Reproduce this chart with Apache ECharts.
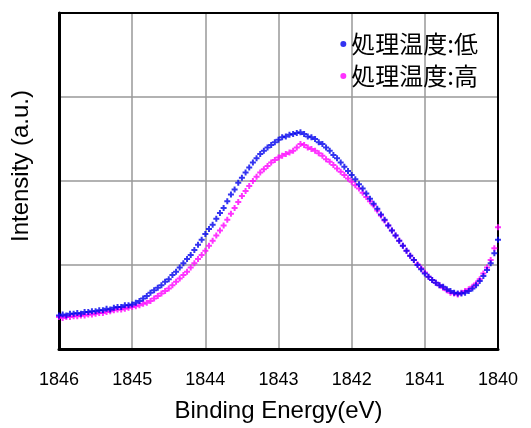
<!DOCTYPE html>
<html><head><meta charset="utf-8">
<script src="https://cdn.jsdelivr.net/npm/echarts@6/dist/echarts.min.js"></script>
<style>html,body{margin:0;padding:0;background:#fff}#c{width:531px;height:428px}</style>
</head><body><div id="c"></div>
<script>
// Binding energy start/step (eV)
const energyStart = 1846.00;
const energyStep = 0.05;
const seriesNames = ['処理温度:低', '処理温度:高'];
const xTicks = [1846, 1845, 1844, 1843, 1842, 1841, 1840];
// Intensity (a.u.), one value per energy point from 1846.00 down to 1840.00
const lowTemp = [
0.40,0.41,0.40,0.42,0.42,0.43,0.42,0.44,0.44,0.45,
0.45,0.46,0.46,0.48,0.47,0.49,0.50,0.50,0.52,0.52,
0.53,0.55,0.57,0.60,0.63,0.67,0.70,0.73,0.76,0.80,
0.83,0.88,0.92,0.97,1.02,1.07,1.12,1.18,1.24,1.30,
1.37,1.43,1.48,1.55,1.62,1.68,1.76,1.84,1.90,1.98,
2.04,2.10,2.16,2.22,2.27,2.32,2.36,2.40,2.43,2.46,
2.49,2.52,2.53,2.55,2.56,2.57,2.58,2.56,2.53,2.52,
2.50,2.46,2.44,2.40,2.36,2.31,2.27,2.22,2.17,2.12,
2.07,2.02,1.96,1.91,1.85,1.79,1.73,1.67,1.60,1.54,
1.47,1.41,1.35,1.29,1.23,1.17,1.11,1.06,1.00,0.95,
0.90,0.86,0.82,0.79,0.76,0.74,0.71,0.69,0.67,0.66,
0.66,0.67,0.69,0.72,0.76,0.81,0.87,0.94,1.02,1.14,
1.30];
const highTemp = [
0.38,0.37,0.38,0.38,0.39,0.39,0.40,0.40,0.41,0.41,
0.42,0.43,0.43,0.44,0.45,0.46,0.47,0.47,0.48,0.49,
0.50,0.51,0.52,0.54,0.55,0.57,0.60,0.63,0.66,0.69,
0.72,0.76,0.80,0.84,0.88,0.92,0.97,1.02,1.07,1.12,
1.17,1.23,1.29,1.35,1.41,1.47,1.54,1.61,1.68,1.75,
1.82,1.88,1.94,2.00,2.05,2.10,2.14,2.18,2.22,2.25,
2.28,2.30,2.32,2.34,2.36,2.40,2.44,2.43,2.40,2.38,
2.36,2.33,2.30,2.26,2.23,2.19,2.15,2.11,2.07,2.03,
1.99,1.95,1.91,1.86,1.81,1.76,1.71,1.65,1.59,1.53,
1.47,1.41,1.35,1.29,1.23,1.17,1.11,1.06,1.01,0.96,
0.91,0.86,0.82,0.79,0.76,0.73,0.70,0.67,0.66,0.65,
0.67,0.69,0.71,0.74,0.78,0.83,0.90,0.97,1.06,1.20,
1.45];

function pairs(vals){ return vals.map((v,i)=>[+(energyStart - i*energyStep).toFixed(2), v]); }
const plus = 'path://M1,0H2V1H3V2H2V3H1V2H0V1H1Z';
const chart = echarts.init(document.getElementById('c'), null, {renderer:'canvas'});
function frameAxis(extra){
  return Object.assign({type:'value', show:true,
    axisLine:{show:true, onZero:false, lineStyle:{color:'#000', width:2}},
    axisTick:{show:false}, axisLabel:{show:false}, splitLine:{show:false}}, extra);
}
chart.setOption({
  animation:false,
  backgroundColor:'#fff',
  grid:{left:59, right:33, top:13, bottom:76},
  legend:{
    show:true, orient:'vertical', right:48, top:27, itemGap:8,
    itemWidth:6, itemHeight:6, icon:'circle',
    textStyle:{fontFamily:'Noto Sans CJK JP', fontSize:24, color:'#000'},
    data: seriesNames
  },
  xAxis:[{
    type:'value', min:1840, max:1846, interval:1, inverse:true,
    name:'Binding Energy(eV)', nameLocation:'middle', nameGap:50,
    nameTextStyle:{fontFamily:'Liberation Sans', fontSize:24, color:'#000'},
    axisLine:{show:true, onZero:false, lineStyle:{color:'#000', width:3}},
    axisTick:{show:false},
    axisLabel:{fontFamily:'Liberation Sans', fontSize:18, color:'#000', margin:22,
      formatter:v=>xTicks.includes(v)?String(v):''},
    splitLine:{show:true, lineStyle:{color:'#999', width:1.5}}
  },
  frameAxis({min:1840, max:1846, inverse:true, position:'top'})],
  yAxis:[{
    type:'value', min:0, max:4, interval:1,
    name:'Intensity (a.u.)', nameLocation:'middle', nameGap:26,
    nameTextStyle:{fontFamily:'Liberation Sans', fontSize:24, color:'#000', padding:[0,0,0,30]},
    axisLine:{show:true, onZero:false, lineStyle:{color:'#000', width:3}},
    axisTick:{show:false},
    axisLabel:{show:false},
    splitLine:{show:true, lineStyle:{color:'#999', width:1.5}}
  },
  frameAxis({min:0, max:4, position:'right'})],
  series:[
    {name:seriesNames[1], type:'scatter', data:pairs(highTemp), symbol:plus, symbolSize:6,
     itemStyle:{color:'#ff00ff'}},
    {name:seriesNames[0], type:'scatter', data:pairs(lowTemp), symbol:plus, symbolSize:6,
     itemStyle:{color:'#0000ee'}}
  ]
});
</script></body></html>
